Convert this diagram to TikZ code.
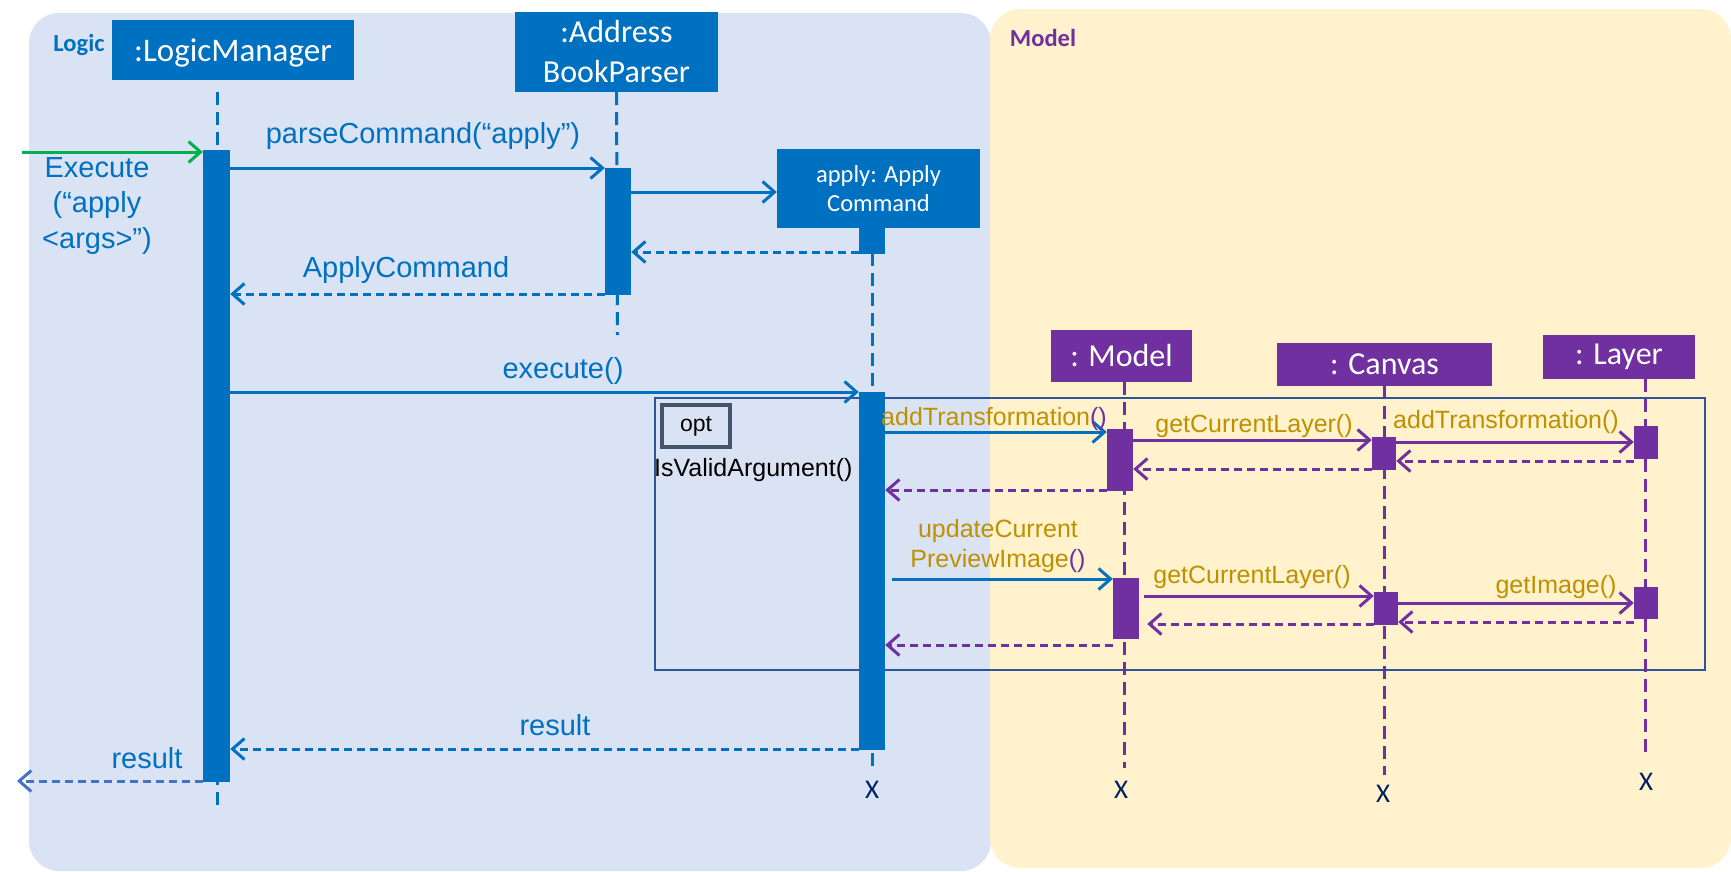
\documentclass[tikz,border=0pt]{standalone}
\usepackage{fontspec}
\setmainfont{Liberation Sans}
\newfontfamily\calfont{Carlito}
\usetikzlibrary{arrows.meta}
\definecolor{cblue}{HTML}{0070C0}
\definecolor{cpurp}{HTML}{7030A0}
\definecolor{cgold}{HTML}{BF9000}
\definecolor{lpanel}{HTML}{DAE3F3}
\definecolor{mpanel}{HTML}{FFF2CC}
\definecolor{cgreen}{HTML}{00B050}
\definecolor{cframe}{HTML}{2F5597}
\definecolor{copt}{HTML}{44546A}
\definecolor{cres}{HTML}{4472C4}
\definecolor{cnavy}{HTML}{002060}
\begin{document}
\begin{tikzpicture}[x=1pt,y=-1pt,
  msg/.style={line width=3pt,-{Straight Barb[length=12pt,width=21pt,line width=3pt]}},
  ret/.style={msg,dash pattern=on 8pt off 5pt},
  life/.style={line width=3pt,dash pattern=on 13pt off 7pt},
  actb/.style={fill=cblue,draw=none,minimum width=26pt,inner sep=0pt},
  actp/.style={fill=cpurp,draw=none,minimum width=25pt,inner sep=0pt},
  objb/.style={fill=cblue,text=white,inner sep=0pt,align=center},
  objp/.style={fill=cpurp,text=white,inner sep=0pt,align=center,font=\calfont\fontsize{32}{38}\selectfont},
  blbl/.style={text=cblue,font=\fontsize{29}{35}\selectfont,inner sep=0pt,anchor=base},
  glbl/.style={text=cgold,font=\fontsize{25}{30}\selectfont,inner sep=0pt,anchor=base},
  xmark/.style={text=cnavy,font=\calfont\fontsize{27}{30}\selectfont,inner sep=0pt},
  pnl/.style={font=\calfont\bfseries\fontsize{24.5}{28}\selectfont,inner sep=0pt,anchor=base}
]
\useasboundingbox (0,0) rectangle (1731,872);
% panels
\fill[lpanel,rounded corners=30pt] (29,13) rectangle (991,871);
\fill[mpanel,rounded corners=30pt] (990,9) rectangle (1731,868);
\node[pnl,text=cblue] (logiclbl) at (79,52) {Logic};
\node[pnl,text=cpurp] (modellbl) at (1043,47) {Model};

% object boxes
\node[objb,minimum width=242pt,minimum height=60pt,text height=28pt,text depth=4pt,font=\calfont\fontsize{33}{38}\selectfont] (lmbox) at (233,50) {:LogicManager};
\node[objb,minimum width=203pt,minimum height=80pt,font=\calfont\fontsize{32}{40}\selectfont] (abpbox) at (616.5,52) {:Address\\BookParser};
\node[objb,minimum width=203pt,minimum height=79pt,font=\calfont\fontsize{24.5}{29}\selectfont] (acbox) at (878.5,188.5) {apply: Apply\\Command};
\node[objp,minimum width=141pt,minimum height=52pt] (modelbox) at (1121.5,356) {: Model};
\node[objp,minimum width=215pt,minimum height=43pt] (canvasbox) at (1384.5,364.5) {: Canvas};
\node[objp,minimum width=152pt,minimum height=44pt] (layerbox) at (1619,357) {: Layer};

% lifeline ends
\coordinate (lmend) at (217,806);
\coordinate (abpend) at (617.5,335);
\coordinate (acend) at (872,768);
\coordinate (mend) at (1124,768);
\coordinate (cend) at (1384,775);
\coordinate (lend) at (1645,757);

% opt frame
\draw[cframe,line width=1.8pt] (655,398) rectangle (1705,670);
\node[draw=copt,line width=4pt,minimum width=68pt,minimum height=42pt,inner sep=0pt,font=\fontsize{23}{26}\selectfont] (opttag) at (696,426) {opt};
\node[inner sep=0pt,anchor=base west,font=\fontsize{25}{30}\selectfont] (guard) at (654,476) {IsValidArgument()};

% lifelines
\draw[life,cblue] (217,92) -- (lmend);
\draw[life,cblue] (abpbox.south) -- (abpend);
\draw[life,cblue] (872,253) -- (acend);
\draw[life,cpurp] (1124,382) -- (mend);
\draw[life,cpurp] (canvasbox.south -| cend) -- (cend);
\draw[life,cpurp] (1645,379) -- (lend);

% activations
\node[actb,minimum width=27pt,minimum height=632pt] (lma) at (216.5,466) {};
\node[actb,minimum height=127pt] (abpa) at (618,231.5) {};
\node[actb,minimum height=26pt] (acs) at (872,240.5) {};
\node[actb,minimum height=358pt] (aca) at (872,571) {};
\node[actp,minimum width=26pt,minimum height=62pt] (ma1) at (1120,460) {};
\node[actp,minimum width=26pt,minimum height=61pt] (ma2) at (1126,608.5) {};
\node[actp,minimum width=24pt,minimum height=33pt] (ca1) at (1384,453.5) {};
\node[actp,minimum width=24pt,minimum height=33pt] (ca2) at (1386,608.5) {};
\node[actp,minimum width=24pt,minimum height=33pt] (la1) at (1646,442.5) {};
\node[actp,minimum width=24pt,minimum height=32pt] (la2) at (1646,603) {};

% incoming call
\coordinate (gstart) at (22,152);
\draw[msg,cgreen] (gstart) -- (lma.west |- gstart);
\node[blbl] (ex1) at (97,177) {Execute};
\node[blbl] (ex2) at (97,212) {(“apply};
\node[blbl] (ex3) at (97,248) {<args>”)};

% logic messages
\draw[msg,cblue] (lma.east |- 0,168) -- (abpa.west |- 0,168);
\node[blbl] (l1) at (423,143) {parseCommand(“apply”)};
\draw[msg,cblue] (abpa.east |- 0,192) -- (acbox.west |- 0,192);
\draw[ret,cblue] (acs.west |- 0,252) -- (abpa.east |- 0,252);
\draw[ret,cblue] (abpa.west |- 0,294) -- (lma.east |- 0,294);
\node[blbl] (l2) at (406,277) {ApplyCommand};
\draw[msg,cblue] (lma.east |- 0,392) -- (aca.west |- 0,392);
\node[blbl] (l3) at (563,378) {execute()};

% model messages, first group
\draw[msg,cblue] (aca.east |- 0,432) -- (ma1.west |- 0,432);
\node[glbl] (g1) at (994,425) {addTransformation\textcolor{cpurp}{()}};
\draw[msg,cpurp] (ma1.east |- 0,440) -- (ca1.west |- 0,440);
\node[glbl] (g2) at (1254,432) {getCurrentLayer()};
\draw[msg,cpurp] (ca1.east |- 0,442) -- (la1.west |- 0,442);
\node[glbl] (g3) at (1506,428) {addTransformation()};
\draw[ret,cpurp] (la1.west |- 0,461) -- (ca1.east |- 0,461);
\draw[ret,cpurp] (ca1.west |- 0,469) -- (ma1.east |- 0,469);
\draw[ret,cpurp] (ma1.west |- 0,490) -- (aca.east |- 0,490);

% model messages, second group
\draw[msg,cblue] ([xshift=7pt]aca.east |- 0,579) -- (ma2.west |- 0,579);
\node[glbl] (g4) at (998,537) {updateCurrent};
\node[glbl] (g5) at (998,567) {PreviewImage\textcolor{cpurp}{()}};
\draw[msg,cpurp] ([xshift=5pt]ma2.east |- 0,596) -- (ca2.west |- 0,596);
\node[glbl] (g6) at (1252,583) {getCurrentLayer()};
\draw[msg,cpurp] (ca2.east |- 0,603) -- (la2.west |- 0,603);
\node[glbl] (g7) at (1556,593) {getImage()};
\draw[ret,cpurp] (la2.west |- 0,622) -- (ca2.east |- 0,622);
\draw[ret,cpurp] (ca2.west |- 0,624) -- ([xshift=8pt]ma2.east |- 0,624);
\draw[ret,cpurp] (ma2.west |- 0,645) -- (aca.east |- 0,645);

% results
\draw[ret,cblue] (aca.west |- 0,749) -- (lma.east |- 0,749);
\node[blbl] (r1) at (555,735) {result};
\coordinate (rend) at (17,781);
\draw[ret,cres] (lma.west |- rend) -- (rend);
\node[blbl] (r2) at (147,768) {result};

% destruction marks
\node[xmark] (xac) at (872,790) {X};
\node[xmark] (xm) at (1121,790) {X};
\node[xmark] (xc) at (1383,794) {X};
\node[xmark] (xl) at (1646,782) {X};
\end{tikzpicture}
\end{document}
